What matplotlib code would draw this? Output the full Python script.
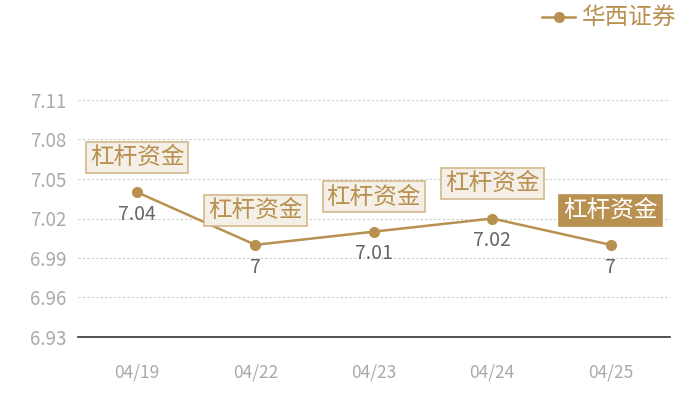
import matplotlib.pyplot as plt

plt.rcParams['font.family'] = ['Noto Sans CJK SC', 'DejaVu Sans']

# data
dates = ['04/19', '04/22', '04/23', '04/24', '04/25']
values = [7.04, 7.00, 7.01, 7.02, 7.00]
value_labels = ['7.04', '7', '7.01', '7.02', '7']
tag = '杠杆资金'
series_name = '华西证券'
yticks = [6.93, 6.96, 6.99, 7.02, 7.05, 7.08, 7.11]

gold = '#b8904f'

fig = plt.figure(figsize=(7, 4), dpi=100)
ax = fig.add_axes([0.111, 0.1575, 0.846, 0.5925])

x = list(range(len(dates)))
ax.plot(x, values, color=gold, lw=1.8, marker='o', markersize=7, label=series_name, zorder=3)

for i, (v, lab) in enumerate(zip(values, value_labels)):
    ax.annotate(lab, (i, v), xytext=(0, -16), textcoords='offset points',
                ha='center', va='center', fontsize=14, color='#666666')
    last = i == len(values) - 1
    ax.annotate(tag, (i, v), xytext=(0, 25), textcoords='offset points',
                ha='center', va='center', fontsize=17,
                color='white' if last else gold,
                bbox=dict(boxstyle='square,pad=0.17',
                          fc=gold if last else '#f4efe7',
                          ec=gold if last else '#d3b98e', lw=1.2),
                zorder=4)

ax.set_xlim(-0.5, len(dates) - 0.5)
ax.set_ylim(6.93, 7.11)
ax.set_yticks(yticks)
ax.set_yticklabels([f'{t:.2f}' for t in yticks])
ax.set_xticks(x)
ax.set_xticklabels(dates)
ax.tick_params(axis='both', length=0, colors='#aaaaaa')
ax.tick_params(axis='y', labelsize=13.5, pad=8)
ax.tick_params(axis='x', labelsize=12.5, pad=19)

for t in yticks[1:]:
    ax.axhline(t, color='#cccccc', lw=0.8, ls=(0, (2, 2)), zorder=1)

for s in ['top', 'right', 'left']:
    ax.spines[s].set_visible(False)
ax.spines['bottom'].set_color('#333333')
ax.spines['bottom'].set_linewidth(1.2)

leg = fig.legend(loc='upper right', bbox_to_anchor=(0.997, 1.035), frameon=False,
                 fontsize=17, handlelength=1.4, handletextpad=0.3)
for t in leg.get_texts():
    t.set_color(gold)

fig.savefig('out.png', dpi=100)
